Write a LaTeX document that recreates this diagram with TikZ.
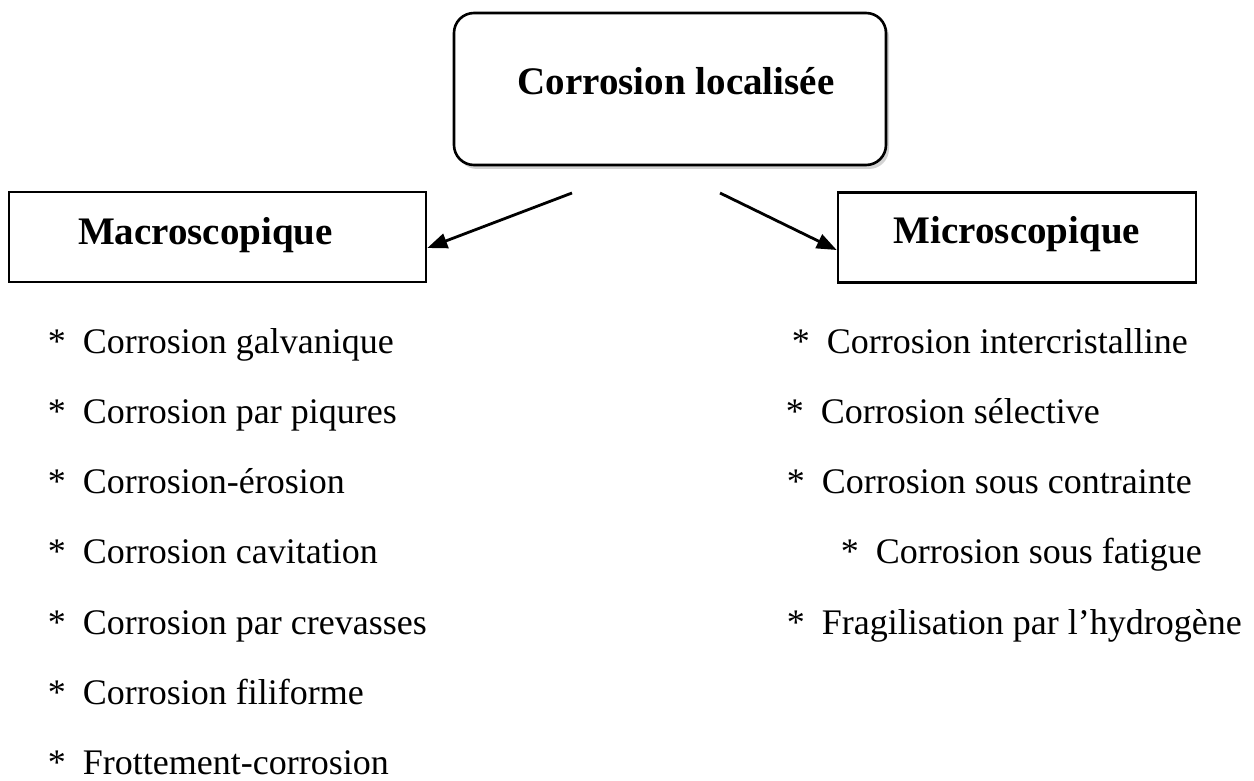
\documentclass[tikz,border=0pt]{standalone}
\usepackage{fontspec}
\setmainfont{Liberation Serif}
\usetikzlibrary{shapes,arrows.meta,shadows}

\newcommand{\itm}[1]{\makebox[17.5pt][l]{*}#1}

\begin{document}
\begin{tikzpicture}[x=0.5pt,y=-0.5pt,->,>={Triangle[length=10pt,width=7.5pt]},line width=1.4pt]
\tikzstyle{head}=[draw=black,line width=1.3pt,font=\fontsize{19.5}{23}\selectfont\bfseries,inner sep=0pt]
\tikzstyle{topbox}=[head,rounded corners=10pt,minimum width=216pt,minimum height=76pt,fill=white,drop shadow={shadow xshift=1.5pt,shadow yshift=-2pt,opacity=.35}]
\tikzstyle{catbox}=[head,minimum height=45pt]
\tikzstyle{item}=[anchor=base west,inner sep=0pt,font=\fontsize{18}{21}\selectfont]

\useasboundingbox (0,0) rectangle (1254,781);

\node[topbox,text height=14pt,text depth=8pt] (top) at (670,89) {\hspace*{6pt}Corrosion localisée};
\node[catbox,minimum width=208.5pt,text height=14pt,text depth=7pt] (macro) at (217.5,237) {Macroscopique\hspace*{12pt}};
\node[catbox,minimum width=179pt,text height=14pt,text depth=8.5pt] (micro) at (1017,237.5) {Microscopique};

\coordinate (ls) at (572,193);
\coordinate (rs) at (720,193);
\draw (ls) -- ([yshift=-5.5pt]macro.east);
\draw (rs) -- ([yshift=-6.25pt]micro.west);

% macroscopique
\node[item] (m1) at (46.5,353) {\itm{Corrosion galvanique}};
\node[item] (m2) at (46.5,423) {\itm{Corrosion par piqures}};
\node[item] (m3) at (46.5,493) {\itm{Corrosion-érosion}};
\node[item] (m4) at (46.5,563) {\itm{Corrosion cavitation}};
\node[item] (m5) at (46.5,634) {\itm{Corrosion par crevasses}};
\node[item] (m6) at (46.5,704) {\itm{Corrosion filiforme}};
\node[item] (m7) at (46.5,774) {\itm{Frottement-corrosion}};

% microscopique
\node[item] (n1) at (790.5,353) {\itm{Corrosion intercristalline}};
\node[item] (n2) at (784.5,423) {\itm{Corrosion sélective}};
\node[item] (n3) at (785.5,493) {\itm{Corrosion sous contrainte}};
\node[item] (n4) at (839.5,563) {\itm{Corrosion sous fatigue}};
\node[item] (n5) at (785.5,634) {\itm{Fragilisation par l’hydrogène}};
\end{tikzpicture}
\end{document}
